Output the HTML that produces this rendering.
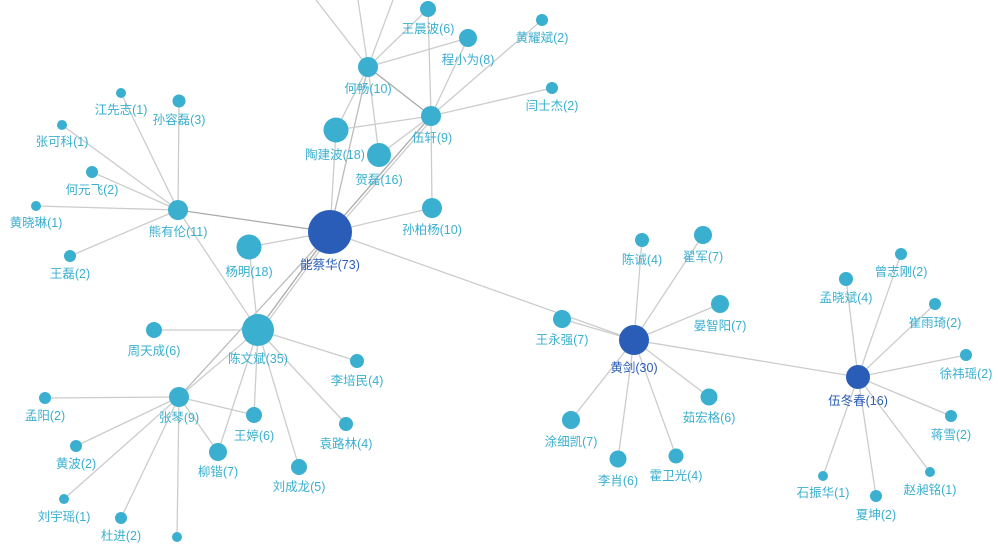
<!DOCTYPE html>
<html><head><meta charset="utf-8"><style>
html,body{margin:0;padding:0;background:#fff;width:1000px;height:547px;overflow:hidden}
svg text{font-family:"Liberation Sans","Noto Sans CJK SC",sans-serif;font-size:12.5px;text-anchor:middle;fill:#3aafcf}
svg text.d{fill:#2a5db8}
line{stroke:#ccc;stroke-width:1.3}
</style></head><body>
<svg width="1000" height="547" viewBox="0 0 1000 547">
<g>
<line x1="368" y1="67" x2="316" y2="0"/><line x1="368" y1="67" x2="358" y2="0"/><line x1="368" y1="67" x2="393" y2="0"/>
<line x1="368" y1="67" x2="428" y2="9"/><line x1="368" y1="67" x2="468" y2="38"/><line x1="368" y1="67" x2="431" y2="116" style="stroke:#aaa"/>
<line x1="368" y1="67" x2="336" y2="130"/><line x1="368" y1="67" x2="379" y2="155"/><line x1="368" y1="67" x2="330" y2="232" style="stroke:#bbb"/>
<line x1="431" y1="116" x2="428" y2="9"/><line x1="431" y1="116" x2="468" y2="38"/><line x1="431" y1="116" x2="542" y2="20"/>
<line x1="431" y1="116" x2="552" y2="88"/><line x1="431" y1="116" x2="336" y2="130"/><line x1="431" y1="116" x2="379" y2="155"/>
<line x1="431" y1="116" x2="432" y2="208"/><line x1="431" y1="116" x2="330" y2="232" style="stroke:#aaa"/><line x1="433" y1="118" x2="332" y2="234"/>
<line x1="336" y1="130" x2="330" y2="232"/><line x1="432" y1="208" x2="330" y2="232"/>
<line x1="330" y1="232" x2="178" y2="210" style="stroke:#aaa"/><line x1="330" y1="232" x2="249" y2="247"/>
<line x1="330" y1="232" x2="258" y2="330" style="stroke:#aaa"/><line x1="332" y1="234" x2="260" y2="332"/>
<line x1="330" y1="232" x2="179" y2="397" style="stroke:#bbb"/><line x1="330" y1="232" x2="634" y2="340"/>
<line x1="178" y1="210" x2="121" y2="93"/><line x1="178" y1="210" x2="179" y2="101"/><line x1="178" y1="210" x2="62" y2="125"/>
<line x1="178" y1="210" x2="92" y2="172"/><line x1="178" y1="210" x2="36" y2="206"/><line x1="178" y1="210" x2="70" y2="256"/>
<line x1="178" y1="210" x2="258" y2="330"/>
<line x1="249" y1="247" x2="258" y2="330"/>
<line x1="258" y1="330" x2="154" y2="330"/><line x1="258" y1="330" x2="179" y2="397"/><line x1="258" y1="330" x2="357" y2="361"/>
<line x1="258" y1="330" x2="346" y2="424"/><line x1="258" y1="330" x2="299" y2="467"/><line x1="258" y1="330" x2="254" y2="415"/>
<line x1="258" y1="330" x2="218" y2="452"/>
<line x1="179" y1="397" x2="45" y2="398"/><line x1="179" y1="397" x2="76" y2="446"/><line x1="179" y1="397" x2="64" y2="499"/>
<line x1="179" y1="397" x2="121" y2="518"/><line x1="179" y1="397" x2="177" y2="537"/><line x1="179" y1="397" x2="218" y2="452"/>
<line x1="179" y1="397" x2="254" y2="415"/>
<line x1="634" y1="340" x2="562" y2="319"/><line x1="634" y1="340" x2="642" y2="240"/><line x1="634" y1="340" x2="703" y2="235"/>
<line x1="634" y1="340" x2="720" y2="304"/><line x1="634" y1="340" x2="709" y2="397"/><line x1="634" y1="340" x2="676" y2="456"/>
<line x1="634" y1="340" x2="618" y2="459"/><line x1="634" y1="340" x2="571" y2="420"/><line x1="634" y1="340" x2="858" y2="377"/>
<line x1="858" y1="377" x2="846" y2="279"/><line x1="858" y1="377" x2="901" y2="254"/><line x1="858" y1="377" x2="935" y2="304"/>
<line x1="858" y1="377" x2="966" y2="355"/><line x1="858" y1="377" x2="951" y2="416"/><line x1="858" y1="377" x2="930" y2="472"/>
<line x1="858" y1="377" x2="876" y2="496"/><line x1="858" y1="377" x2="823" y2="476"/>
</g>
<g fill="#3aafcf">
<circle cx="368" cy="67" r="10"/><circle cx="431" cy="116" r="10"/><circle cx="336" cy="130" r="12.5"/><circle cx="379" cy="155" r="12"/>
<circle cx="432" cy="208" r="10"/><circle cx="428" cy="9" r="8"/><circle cx="468" cy="38" r="9"/><circle cx="542" cy="20" r="6"/>
<circle cx="552" cy="88" r="6"/><circle cx="121" cy="93" r="5"/><circle cx="179" cy="101" r="6.5"/><circle cx="62" cy="125" r="5"/>
<circle cx="92" cy="172" r="6"/><circle cx="36" cy="206" r="5"/><circle cx="70" cy="256" r="6"/><circle cx="178" cy="210" r="10"/>
<circle cx="249" cy="247" r="12.5"/><circle cx="258" cy="330" r="16"/><circle cx="154" cy="330" r="8"/><circle cx="357" cy="361" r="7"/>
<circle cx="254" cy="415" r="8"/><circle cx="346" cy="424" r="7"/><circle cx="218" cy="452" r="9"/><circle cx="299" cy="467" r="8"/>
<circle cx="179" cy="397" r="10"/><circle cx="45" cy="398" r="6"/><circle cx="76" cy="446" r="6"/><circle cx="64" cy="499" r="5"/>
<circle cx="121" cy="518" r="6"/><circle cx="177" cy="537" r="5"/>
<circle cx="562" cy="319" r="9"/><circle cx="642" cy="240" r="7"/><circle cx="703" cy="235" r="9"/><circle cx="720" cy="304" r="9"/>
<circle cx="709" cy="397" r="8.5"/><circle cx="676" cy="456" r="7.5"/><circle cx="618" cy="459" r="8.5"/><circle cx="571" cy="420" r="9"/>
<circle cx="846" cy="279" r="7"/><circle cx="901" cy="254" r="6"/><circle cx="935" cy="304" r="6"/><circle cx="966" cy="355" r="6"/>
<circle cx="951" cy="416" r="6"/><circle cx="930" cy="472" r="5"/><circle cx="876" cy="496" r="6"/><circle cx="823" cy="476" r="5"/>
</g>
<g fill="#2a5db8">
<circle cx="330" cy="232" r="22"/><circle cx="634" cy="340" r="15"/><circle cx="858" cy="377" r="12"/>
</g>
<g>
<text x="368" y="93">何畅(10)</text><text x="432" y="142">伍轩(9)</text><text x="335" y="159">陶建波(18)</text><text x="379" y="184">贺磊(16)</text>
<text x="432" y="234">孙柏杨(10)</text><text x="428" y="33">王晨波(6)</text><text x="468" y="64">程小为(8)</text><text x="542" y="42">黄耀斌(2)</text>
<text x="552" y="110">闫士杰(2)</text><text x="121" y="114">江先志(1)</text><text x="179" y="124">孙容磊(3)</text><text x="62" y="146">张可科(1)</text>
<text x="92" y="194">何元飞(2)</text><text x="36" y="227">黄晓琳(1)</text><text x="70" y="278">王磊(2)</text><text x="178" y="236">熊有伦(11)</text>
<text x="249" y="276">杨明(18)</text><text x="258" y="363">陈文斌(35)</text><text x="154" y="355">周天成(6)</text><text x="357" y="385">李培民(4)</text>
<text x="254" y="440">王婷(6)</text><text x="346" y="448">袁路林(4)</text><text x="218" y="476">柳锴(7)</text><text x="299" y="491">刘成龙(5)</text>
<text x="179" y="422">张琴(9)</text><text x="45" y="420">孟阳(2)</text><text x="76" y="468">黄波(2)</text><text x="64" y="521">刘宇瑶(1)</text>
<text x="121" y="540">杜进(2)</text>
<text class="d" x="330" y="269">能蔡华(73)</text>
<text x="562" y="344">王永强(7)</text><text x="642" y="264">陈诚(4)</text><text x="703" y="261">翟军(7)</text><text x="720" y="330">晏智阳(7)</text>
<text x="709" y="422">茹宏格(6)</text><text x="676" y="480">霍卫光(4)</text><text x="618" y="485">李肖(6)</text><text x="571" y="446">涂细凯(7)</text>
<text class="d" x="634" y="372">黄剑(30)</text><text class="d" x="858" y="405">伍冬春(16)</text>
<text x="846" y="302">孟晓斌(4)</text><text x="901" y="276">曾志刚(2)</text><text x="935" y="327">崔雨琦(2)</text><text x="966" y="378">徐祎瑶(2)</text>
<text x="951" y="439">蒋雪(2)</text><text x="930" y="494">赵昶铭(1)</text><text x="876" y="519">夏坤(2)</text><text x="823" y="497">石振华(1)</text>
</g>
</svg>
</body></html>
